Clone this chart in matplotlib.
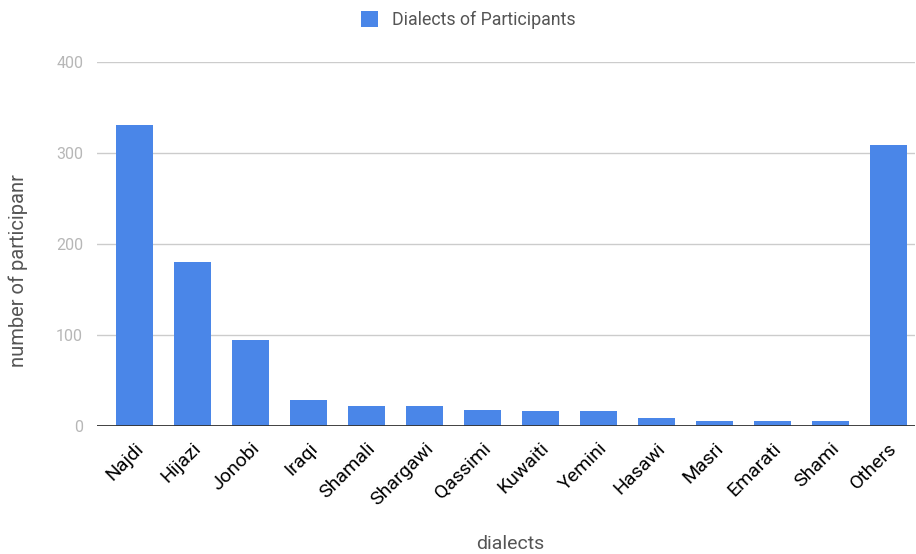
import matplotlib
matplotlib.use("Agg")
import matplotlib.pyplot as plt
from matplotlib.transforms import ScaledTranslation

dialects = ["Najdi", "Hijazi", "Jonobi", "Iraqi", "Shamali", "Shargawi", "Qassimi",
            "Kuwaiti", "Yemini", "Hasawi", "Masri", "Emarati", "Shami", "Others"]
participants = [331, 180, 94, 29, 22, 22, 18, 16, 16, 9, 5, 5, 5, 309]
y_ticks = [0, 100, 200, 300, 400]

plt.rcParams['font.family'] = ['Roboto', 'DejaVu Sans']

fig = plt.figure(figsize=(9.16, 5.54), dpi=100)
ax = fig.add_axes([97/916, 128/554, 818/916, 364/554])

bar_color = "#4a86e8"
x = list(range(len(dialects)))
ax.bar(x, participants, width=0.64, color=bar_color, zorder=3,
       label="Dialects of Participants")

ax.set_ylim(0, 400)
ax.set_xlim(-0.65, 13.46)
ax.set_yticks(y_ticks)
ax.set_yticklabels([str(v) for v in y_ticks], color="#b7b7b7", fontsize=11.5)
ax.tick_params(axis="y", length=0, pad=10)
ax.yaxis.grid(True, color="#cccccc", linewidth=1, zorder=0)
ax.axhline(0, color="#333333", linewidth=1.3, zorder=4)

ax.set_xticks(x)
ax.set_xticklabels(dialects, rotation=45, ha="right", va="center",
                   rotation_mode="anchor", fontsize=14, color="#000000")
ax.tick_params(axis="x", length=0, pad=14)
shift = ScaledTranslation(6/100, 0, fig.dpi_scale_trans)
for lbl in ax.get_xticklabels():
    lbl.set_transform(lbl.get_transform() + shift)

for s in ax.spines.values():
    s.set_visible(False)

fig.text(510/916, 1 - 544/554, "dialects", fontsize=14, color="#555555",
         ha="center", va="center")
fig.text(18/916, 1 - 271/554, "number of participanr", fontsize=14.5,
         color="#555555", ha="center", va="center", rotation=90)

fig.legend(loc="upper center", bbox_to_anchor=(0.5 + 10/916, 1 + 5/554),
           frameon=False, fontsize=12.8, handlelength=1.0, handleheight=1.0,
           labelcolor="#555555", handletextpad=0.75)

fig.savefig("out.png", dpi=100)
